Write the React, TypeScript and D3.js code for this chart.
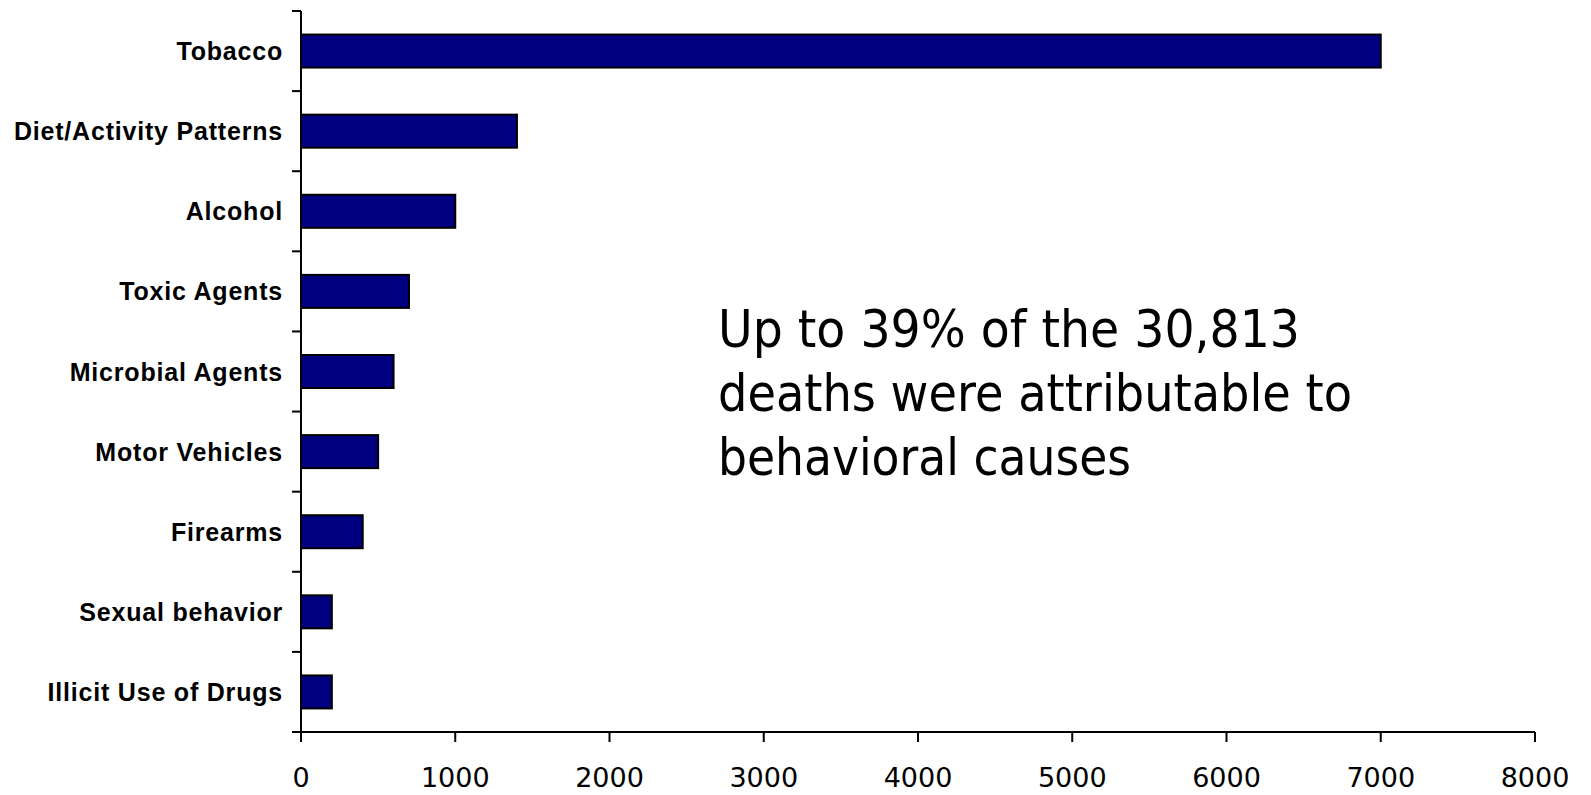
import React from "react";
import * as d3 from "d3";

const categories = [
  "Tobacco",
  "Diet/Activity Patterns",
  "Alcohol",
  "Toxic Agents",
  "Microbial Agents",
  "Motor Vehicles",
  "Firearms",
  "Sexual behavior",
  "Illicit Use of Drugs",
];
const deaths = [7000, 1400, 1000, 700, 600, 500, 400, 200, 200];
const xTicks = [0, 1000, 2000, 3000, 4000, 5000, 6000, 7000, 8000];
const annotationLines = [
  "Up to 39% of the 30,813",
  "deaths were attributable to",
  "behavioral causes",
];

const W = 1591;
const H = 795;
const left = 301;
const right = 1535;
const top = 11;
const bottom = 732;

export default function App() {
  const x = d3.scaleLinear().domain([0, 8000]).range([left, right]);
  const y = d3
    .scaleBand<string>()
    .domain(categories)
    .range([top, bottom])
    .paddingInner(0.588)
    .paddingOuter(0.294);
  const step = (bottom - top) / categories.length;
  const boundaries = d3.range(categories.length + 1).map((i) => top + i * step);
  const annoWidths = [582, 634, 413];

  return (
    <svg
      width={W}
      height={H}
      style={{ position: "absolute", left: 0, top: 0, background: "#fff" }}
    >
      {/* bars */}
      {categories.map((c, i) => (
        <rect
          key={c}
          x={x(0)}
          y={y(c)!}
          width={x(deaths[i]) - x(0)}
          height={y.bandwidth()}
          fill="#000080"
          stroke="#000"
          strokeWidth={2}
        />
      ))}
      {/* y axis */}
      <line x1={left} x2={left} y1={top} y2={bottom + 10} stroke="#000" strokeWidth={2} />
      {boundaries.map((b, i) => (
        <line key={i} x1={left - 9} x2={left} y1={b} y2={b} stroke="#000" strokeWidth={2} />
      ))}
      {categories.map((c) => (
        <text
          key={c}
          x={283}
          y={y(c)! + y.bandwidth() / 2}
          dy="0.36em"
          textAnchor="end"
          fontFamily="'Liberation Sans', Arial, sans-serif"
          fontWeight="bold"
          fontSize={25}
          letterSpacing={0.8}
          fill="#000"
        >
          {c}
        </text>
      ))}
      {/* x axis */}
      <line x1={left - 9} x2={right} y1={bottom} y2={bottom} stroke="#000" strokeWidth={2} />
      {xTicks.map((t) => (
        <g key={t}>
          <line x1={x(t)} x2={x(t)} y1={bottom} y2={bottom + 10} stroke="#000" strokeWidth={2} />
          <text
            x={x(t)}
            y={787}
            textAnchor="middle"
            fontFamily="'DejaVu Sans', Verdana, sans-serif"
            fontSize={27}
            fill="#000"
          >
            {t}
          </text>
        </g>
      ))}
      {/* annotation */}
      {annotationLines.map((l, i) => (
        <text
          key={i}
          x={718}
          y={347 + i * 64}
          fontFamily="'DejaVu Sans', Verdana, sans-serif"
          fontSize={52}
          textLength={annoWidths[i]}
          lengthAdjust="spacingAndGlyphs"
          fill="#000"
        >
          {l}
        </text>
      ))}
    </svg>
  );
}
